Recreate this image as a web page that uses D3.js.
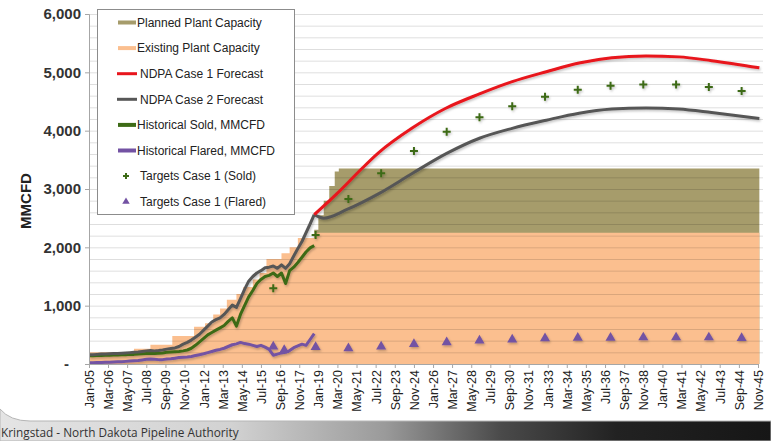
<!DOCTYPE html>
<html>
<head>
<meta charset="utf-8">
<script src="https://cdn.jsdelivr.net/npm/d3@7"></script>
<style>
  body { margin: 0; background: #fff; }
  svg { display: block; font-family: Arial, 'Liberation Sans', sans-serif; }
</style>
</head>
<body>
<div class="viz"></div>
<script>
/* globals d3 */
// labels on the horizontal axis, one every 14 months
const tickLabels = ['Jan-05', 'Mar-06', 'May-07', 'Jul-08', 'Sep-09', 'Nov-10', 'Jan-12', 'Mar-13', 'May-14',
  'Jul-15', 'Sep-16', 'Nov-17', 'Jan-19', 'Mar-20', 'May-21', 'Jul-22', 'Sep-23', 'Nov-24', 'Jan-26', 'Mar-27',
  'May-28', 'Jul-29', 'Sep-30', 'Nov-31', 'Jan-33', 'Mar-34', 'May-35', 'Jul-36', 'Sep-37', 'Nov-38', 'Jan-40',
  'Mar-41', 'May-42', 'Jul-43', 'Sep-44', 'Nov-45'];

// historical values, read quarterly
const historyDates = [
  '2005-01', '2005-04', '2005-07', '2005-10', '2006-01', '2006-04', '2006-07', '2006-10',
  '2007-01', '2007-04', '2007-07', '2007-10', '2008-01', '2008-04', '2008-07', '2008-10',
  '2009-01', '2009-04', '2009-07', '2009-10', '2010-01', '2010-04', '2010-07', '2010-10',
  '2011-01', '2011-04', '2011-07', '2011-10', '2012-01', '2012-04', '2012-07', '2012-10',
  '2013-01', '2013-04', '2013-07', '2013-10', '2014-01', '2014-04', '2014-07', '2014-10',
  '2015-01', '2015-04', '2015-07', '2015-10', '2016-01', '2016-04', '2016-07', '2016-10',
  '2017-01', '2017-04', '2017-07', '2017-10', '2018-01', '2018-04', '2018-07', '2018-10'];
const historyCase2 = [
  160, 160, 165, 170, 170, 175, 180, 180, 185, 190, 195, 200, 205, 215, 225, 230,
  225, 230, 240, 255, 265, 275, 300, 340, 370, 410, 460, 510, 580, 650, 720, 760,
  790, 850, 930, 1010, 970, 1120, 1280, 1420, 1500, 1560, 1600, 1650, 1660, 1680, 1640, 1700,
  1640, 1720, 1850, 1980, 2100, 2250, 2400, 2560];
const historySold = [
  140, 140, 145, 145, 150, 150, 155, 155, 160, 160, 165, 165, 170, 175, 180, 185,
  180, 185, 190, 200, 205, 210, 215, 225, 240, 270, 320, 380, 440, 500, 540, 580,
  620, 660, 730, 790, 650, 850, 1000, 1150, 1260, 1380, 1450, 1500, 1520, 1560, 1500, 1560,
  1380, 1600, 1660, 1740, 1830, 1920, 1990, 2030];
const historyFlared = [
  20, 20, 25, 25, 30, 30, 35, 40, 40, 45, 50, 55, 60, 70, 80, 85,
  80, 75, 75, 85, 90, 100, 110, 115, 120, 130, 145, 160, 175, 195, 215, 235,
  250, 270, 300, 330, 345, 370, 350, 340, 320, 300, 320, 290, 250, 150, 170, 190,
  200, 230, 280, 310, 340, 320, 420, 520];

// plant capacities, as steps
const existingDates = ['2005-01', '2007-10', '2008-10', '2010-02', '2011-06', '2012-02', '2012-08', '2013-01',
  '2013-06', '2014-01', '2014-06', '2015-01', '2015-06', '2015-11', '2016-10', '2017-04', '2017-10', '2018-10', '2045-12'];
const existingCapacity = [200, 260, 330, 480, 640, 700, 850, 950,
  1100, 1200, 1320, 1450, 1560, 1800, 1900, 2000, 2160, 2250, 2250];
const plannedDates = ['2018-10', '2019-01', '2019-05', '2019-09', '2020-01', '2020-04', '2045-12'];
const plannedCapacity = [2300, 2550, 2800, 3050, 3300, 3350, 3350];

// forecasts
const case1Dates = ['2018-10', '2020-04', '2021-08', '2022-09', '2024-10', '2026-10', '2028-11',
  '2030-11', '2032-12', '2034-12', '2036-12', '2039-01', '2041-01', '2043-01', '2045-12'];
const case1Forecast = [2560, 2950, 3330, 3620, 4050, 4380, 4630,
  4840, 5010, 5160, 5250, 5280, 5265, 5200, 5077];
const case2Dates = ['2018-10', '2019-05', '2020-10', '2022-10', '2024-10', '2026-11', '2028-11', '2030-11',
  '2032-12', '2034-12', '2036-12', '2039-01', '2041-01', '2043-01', '2045-12'];
const case2Forecast = [2560, 2500, 2650, 2930, 3270, 3610, 3870, 4040,
  4180, 4300, 4370, 4390, 4370, 4310, 4210];

// targets
const soldTargetDates = ['2016-04', '2018-11', '2020-11', '2022-11', '2024-11', '2026-11', '2028-11', '2030-11',
  '2032-11', '2034-11', '2036-11', '2038-11', '2040-11', '2042-11', '2044-11'];
const soldTargets = [1300, 2210, 2830, 3270, 3650, 3980, 4230, 4420, 4580, 4700, 4770, 4790, 4790, 4750, 4680];
const flaredTargetDates = ['2016-04', '2016-12', '2018-11', '2020-11', '2022-11', '2024-11', '2026-11', '2028-11',
  '2030-11', '2032-11', '2034-11', '2036-11', '2038-11', '2040-11', '2042-11', '2044-11'];
const flaredTargets = [300, 240, 290, 270, 300, 340, 370, 400, 420, 440, 450, 450, 455, 455, 455, 445];

const colors = {
  planned: '#a69c6b',
  existing: '#fbbf8f',
  case1: '#e8151d',
  case2: '#575757',
  sold: '#3d6b16',
  flared: '#7352a3',
};

const parseMonth = d3.timeParse('%Y-%m');
const parseLabel = d3.timeParse('%b-%y');
const zip = (dates, values) => dates.map((d, i) => ({ date: parseMonth(d), value: values[i] }));

const width = 771;
const height = 441;
const plot = { left: 89, right: 763, top: 14, bottom: 364 };

const svg = d3.select('.viz')
  .append('svg')
  .attr('width', width)
  .attr('height', height);

const defs = svg.append('defs');

// soft shadow under the series, like the original spreadsheet chart
const shadow = defs.append('filter')
  .attr('id', 'shadow')
  .attr('x', '-5%')
  .attr('y', '-5%')
  .attr('width', '110%')
  .attr('height', '120%');
shadow.append('feDropShadow')
  .attr('dx', 1)
  .attr('dy', 1.5)
  .attr('stdDeviation', 1)
  .attr('flood-color', '#000')
  .attr('flood-opacity', 0.25);

const xScale = d3.scaleTime()
  .domain([parseLabel(tickLabels[0]), parseLabel(tickLabels[tickLabels.length - 1])])
  .range([plot.left, 758]);

const yScale = d3.scaleLinear()
  .domain([0, 6000])
  .range([plot.bottom, plot.top]);

defs.append('clipPath')
  .attr('id', 'clip')
  .append('rect')
  .attr('x', plot.left)
  .attr('y', 0)
  .attr('width', plot.right - plot.left)
  .attr('height', plot.bottom);

const chart = svg.append('g').attr('clip-path', 'url(#clip)');

// capacity areas, planned behind existing
const stepArea = d3.area()
  .x(d => xScale(d.date))
  .y0(yScale(0))
  .y1(d => yScale(d.value))
  .curve(d3.curveStepAfter);

chart.append('path')
  .attr('d', stepArea(zip(plannedDates, plannedCapacity)))
  .attr('fill', colors.planned);

chart.append('path')
  .attr('d', stepArea(zip(existingDates, existingCapacity)))
  .attr('fill', colors.existing);

// horizontal grid lines every 200
chart.append('g')
  .selectAll('line')
  .data(d3.range(200, 6001, 200))
  .join('line')
  .attr('x1', plot.left)
  .attr('x2', plot.right)
  .attr('y1', d => yScale(d) + 0.5)
  .attr('y2', d => yScale(d) + 0.5)
  .attr('stroke', '#000')
  .attr('stroke-opacity', 0.13);

// lines
const line = d3.line()
  .x(d => xScale(d.date))
  .y(d => yScale(d.value));
const smooth = d3.line()
  .x(d => xScale(d.date))
  .y(d => yScale(d.value))
  .curve(d3.curveMonotoneX);

const series = chart.append('g').attr('filter', 'url(#shadow)');

function drawLine(generator, data, color) {
  series.append('path')
    .attr('d', generator(data))
    .attr('fill', 'none')
    .attr('stroke', color)
    .attr('stroke-width', 3)
    .attr('stroke-linejoin', 'round');
}

drawLine(line, zip(historyDates, historyFlared), colors.flared);
drawLine(line, zip(historyDates, historySold), colors.sold);
drawLine(smooth, zip(case2Dates, case2Forecast), colors.case2);
drawLine(line, zip(historyDates, historyCase2), colors.case2);
drawLine(smooth, zip(case1Dates, case1Forecast), colors.case1);

// targets
series.append('g')
  .selectAll('path')
  .data(zip(flaredTargetDates, flaredTargets))
  .join('path')
  .attr('transform', d => `translate(${xScale(d.date)} ${yScale(d.value)})`)
  .attr('d', d3.symbol(d3.symbolTriangle, 44))
  .attr('fill', colors.flared);

series.append('g')
  .selectAll('path')
  .data(zip(soldTargetDates, soldTargets))
  .join('path')
  .attr('transform', d => `translate(${xScale(d.date)} ${yScale(d.value)})`)
  .attr('d', 'M-4,0H4M0,-4V4')
  .attr('stroke', colors.sold)
  .attr('stroke-width', 2);

// axes
const yAxis = d3.axisLeft(yScale)
  .tickValues(d3.range(0, 6001, 1000))
  .tickSize(4)
  .tickPadding(4)
  .tickFormat(d => (d === 0 ? '-' : d3.format(',')(d)));

const gY = svg.append('g')
  .attr('transform', `translate(${plot.left} 0)`)
  .call(yAxis);
gY.select('.domain').attr('stroke', '#a6a6a6');
gY.selectAll('line').attr('stroke', '#a6a6a6');
gY.selectAll('text')
  .attr('font-size', 15)
  .attr('font-weight', 'bold')
  .attr('fill', '#333');
gY.selectAll('.tick')
  .filter(d => d === 0)
  .select('text')
  .attr('x', -20);

const xAxis = d3.axisBottom(xScale)
  .tickValues(tickLabels.map(parseLabel))
  .tickSize(4)
  .tickFormat(d3.timeFormat('%b-%y'));

const gX = svg.append('g')
  .attr('transform', `translate(0 ${plot.bottom})`)
  .call(xAxis);
gX.select('.domain').attr('stroke', '#a6a6a6');
gX.selectAll('line').attr('stroke', '#a6a6a6');
gX.selectAll('text')
  .attr('font-size', 12.5)
  .attr('fill', '#222')
  .attr('text-anchor', 'end')
  .attr('transform', 'rotate(-90)')
  .attr('x', -6)
  .attr('y', 0)
  .attr('dy', '0.35em');

svg.append('text')
  .attr('transform', `translate(31 ${(plot.top + plot.bottom) / 2 + 12}) rotate(-90)`)
  .attr('text-anchor', 'middle')
  .attr('font-size', 15)
  .attr('font-weight', 'bold')
  .attr('fill', '#222')
  .text('MMCFD');

// legend
const legendItems = [
  { label: 'Planned Plant Capacity', type: 'patch', color: colors.planned },
  { label: 'Existing Plant Capacity', type: 'patch', color: colors.existing },
  { label: 'NDPA Case 1 Forecast', type: 'line', color: colors.case1 },
  { label: 'NDPA Case 2 Forecast', type: 'line', color: colors.case2 },
  { label: 'Historical Sold, MMCFD', type: 'patch', color: colors.sold },
  { label: 'Historical Flared, MMCFD', type: 'patch', color: colors.flared },
  { label: 'Targets Case 1 (Sold)', type: 'cross', color: colors.sold },
  { label: 'Targets Case 1 (Flared)', type: 'triangle', color: colors.flared },
];

const legend = svg.append('g');
legend.append('rect')
  .attr('x', 97.5)
  .attr('y', 9.5)
  .attr('width', 197)
  .attr('height', 205)
  .attr('fill', '#fff')
  .attr('stroke', '#8c8c8c');

const legendRows = legend.selectAll('g.row')
  .data(legendItems)
  .join('g')
  .attr('class', 'row')
  .attr('transform', (d, i) => `translate(0 ${22.5 + i * 25.6})`);

legendRows.filter(d => d.type === 'patch')
  .append('rect')
  .attr('x', 118)
  .attr('y', -2)
  .attr('width', 18)
  .attr('height', 4)
  .attr('fill', d => d.color);
legendRows.filter(d => d.type === 'line')
  .append('line')
  .attr('x1', 117)
  .attr('x2', 137)
  .attr('stroke', d => d.color)
  .attr('stroke-width', 3);
legendRows.filter(d => d.type === 'cross')
  .append('path')
  .attr('transform', 'translate(126 0)')
  .attr('d', 'M-3,0H3M0,-3V3')
  .attr('stroke', d => d.color)
  .attr('stroke-width', 2);
legendRows.filter(d => d.type === 'triangle')
  .append('path')
  .attr('transform', 'translate(126 0)')
  .attr('d', d3.symbol(d3.symbolTriangle, 24))
  .attr('fill', d => d.color);

legendRows.append('text')
  .attr('x', d => (d.type === 'patch' ? 137 : 140))
  .attr('dy', '0.35em')
  .attr('font-size', 12)
  .attr('fill', '#222')
  .text(d => d.label);

// footer band
const grad = defs.append('linearGradient')
  .attr('id', 'footer-gradient');
[[0, '#e4e4e4'], [0.3, '#d2d2d2'], [0.5, '#9a9a9a'], [0.65, '#4a4a4a'], [0.8, '#222'], [1, '#161616']]
  .forEach(([offset, color]) => grad.append('stop').attr('offset', offset).attr('stop-color', color));

svg.append('path')
  .attr('d', `M0,409 Q10,421 30,421 L${width},421 L${width},${height} L0,${height} Z`)
  .attr('fill', 'url(#footer-gradient)')
  .attr('stroke', '#b5b5b5');

svg.append('text')
  .attr('x', 1)
  .attr('y', 437)
  .attr('font-family', '"Open Sans", sans-serif')
  .attr('font-size', 11.8)
  .attr('fill', '#333')
  .text('Kringstad - North Dakota Pipeline Authority');
</script>
</body>
</html>
